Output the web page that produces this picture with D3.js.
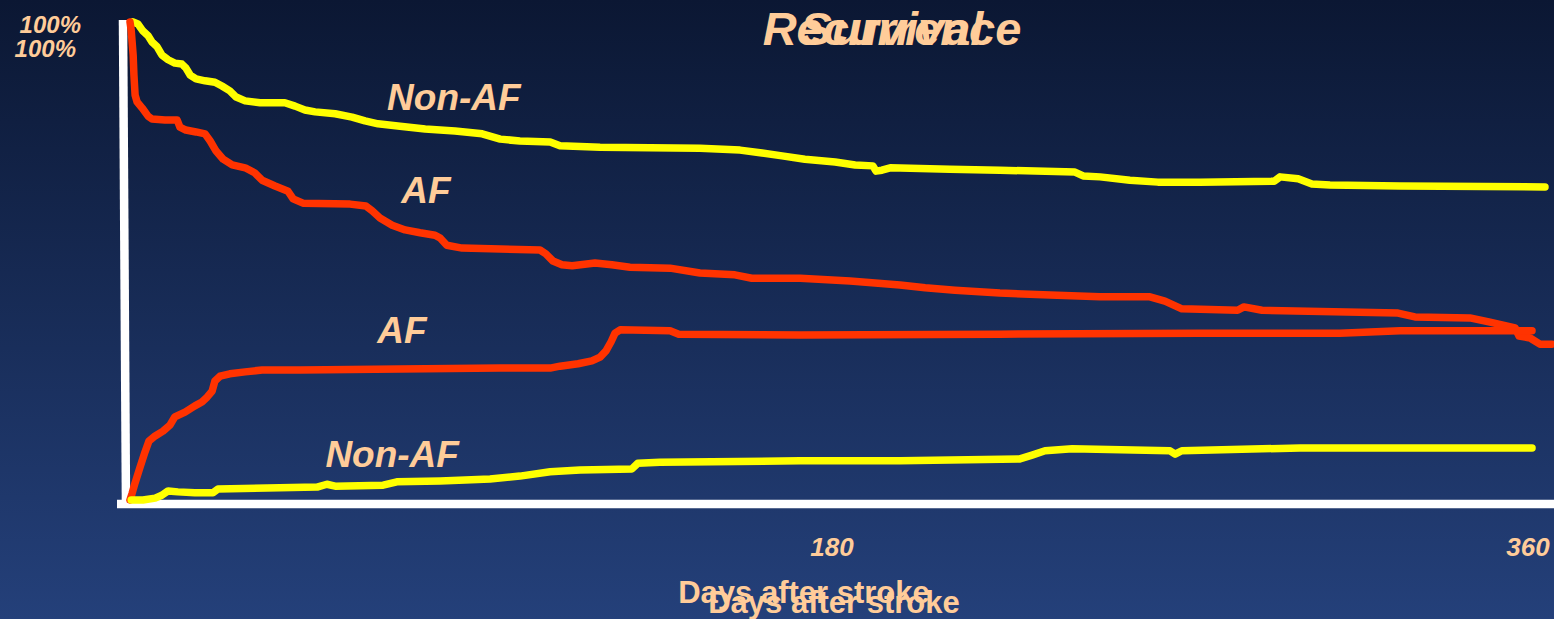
<!DOCTYPE html>
<html>
<head>
<meta charset="utf-8">
<script src="https://cdn.jsdelivr.net/npm/d3@7"></script>
<style>
  html, body { margin: 0; padding: 0; background: #0c1834; }
  svg { display: block; }
</style>
</head>
<body>
<svg id="chart" width="1554" height="619"></svg>
<script>
// Kaplan-Meier style curves after stroke: [day, percent]
const nonAfSurvival = [
  [0.8,100],[2.0,99.6],[3.3,98.1],[4.6,97.1],[5.6,95.8],[6.9,94.8],[8.1,93.1],[9.7,92.1],
  [11.4,91.4],[13.2,91.2],[14.2,90.4],[15.3,88.9],[16.8,88.1],[19.1,87.7],[21.6,87.4],
  [23.4,86.6],[25.4,85.6],[27.0,84.3],[29.3,83.5],[33.1,83.1],[39.4,83.1],[42.0,82.4],
  [44.5,81.6],[47.1,81.2],[52.2,80.8],[56.5,80.1],[59.8,79.3],[63.1,78.7],[68.7,78.2],
  [75.1,77.6],[82.7,77.2],[89.6,76.6],[94.2,75.5],[99.2,75.1],[106.9,74.9],[109.4,74.1],
  [119.6,73.8],[145.0,73.6],[155.2,73.2],[160.8,72.6],[165.9,72.0],[171.7,71.3],[179.4,70.7],
  [184.5,70.1],[189.0,69.9],[189.8,68.8],[191.3,69.0],[193.4,69.5],[208.6,69.2],[221.3,69.0],
  [240.4,68.6],[242.5,67.8],[246.8,67.6],[254.4,66.9],[261.5,66.5],[272.2,66.5],[291.1,66.7],
  [292.6,67.6],[297.2,67.2],[300.7,66.1],[305.3,65.9],[323.1,65.7],[360,65.5]
];

const afSurvival = [
  [0,100],[0.3,98.3],[0.8,93.1],[1.0,88.9],[1.3,84.7],[1.8,83.3],[3.1,82.0],[4.6,80.3],
  [5.6,79.7],[8.9,79.5],[12.0,79.5],[12.7,78.0],[14.2,77.4],[16.8,77.0],[19.1,76.6],
  [20.4,75.1],[21.9,73.0],[23.7,71.3],[26.0,70.1],[29.3,69.5],[31.8,68.4],[33.6,66.9],
  [36.9,65.7],[40.2,64.6],[41.5,63.0],[44.0,62.1],[56.0,61.9],[60.0,61.5],[61.6,60.5],
  [63.6,59.0],[66.7,57.5],[70.0,56.5],[73.8,55.9],[77.6,55.4],[78.9,54.8],[80.6,53.3],
  [84.5,52.7],[104.3,52.3],[105.8,51.5],[107.6,50.0],[109.9,49.2],[112.5,49.0],[118.3,49.6],
  [122.6,49.2],[127.2,48.7],[137.4,48.5],[145.0,47.5],[153.9,47.1],[158.2,46.4],[170.5,46.4],
  [183.2,45.8],[195.9,45.0],[202.3,44.4],[209.9,43.9],[221.3,43.3],[234.1,42.9],[246.8,42.5],
  [259.5,42.5],[263.3,41.6],[267.6,40.0],[281.8,39.7],[283.4,40.4],[288.0,39.7],[322.6,39.1],
  [326.9,38.3],[340.9,38.1],[346.0,37.2],[352.4,36.0],[353.4,34.3],[356.2,33.9],[358.7,32.6],
  [361.8,32.6]
];

const afRecurrence = [
  [0,0],[0.5,1.3],[1.3,3.6],[2.5,6.7],[3.8,10.0],[4.8,12.3],[6.4,13.4],[8.4,14.4],
  [10.2,15.7],[11.4,17.4],[14.0,18.4],[16.5,19.7],[18.3,20.5],[19.6,21.5],[20.9,22.8],
  [21.6,24.9],[22.9,25.9],[25.4,26.4],[29.3,26.8],[33.6,27.2],[43.3,27.2],[68.7,27.4],
  [94.2,27.6],[106.9,27.6],[109.4,28.0],[114.0,28.5],[117.5,29.1],[119.6,29.9],[121.1,31.2],
  [122.4,33.1],[123.4,34.9],[124.7,35.6],[137.4,35.4],[139.6,34.7],[170.5,34.5],[221.3,34.7],
  [272.2,34.9],[307.8,34.9],[323.1,35.4],[356.7,35.4]
];

const nonAfRecurrence = [
  [0.3,0],[3.3,0],[6.4,0.4],[8.1,1.0],[9.7,1.9],[12.2,1.7],[16.5,1.5],[21.1,1.5],[22.4,2.3],
  [34.9,2.5],[47.6,2.7],[50.1,3.3],[52.2,2.9],[64.4,3.1],[67.9,3.8],[78.9,4.0],[91.6,4.4],
  [99.2,5.0],[106.9,5.9],[114.5,6.3],[127.7,6.5],[129.2,7.7],[134.8,7.9],[170.5,8.2],
  [195.9,8.2],[226.4,8.6],[229.5,9.4],[232.8,10.3],[239.7,10.7],[264.6,10.3],[265.9,9.6],
  [267.6,10.3],[297.7,10.9],[356.7,10.9]
];

const xTicks = [180, 360];
const yTickLabels = ["100%", "100%"];
const titles = ["Recurrence", "Survival"];
const xTitles = ["Days after stroke", "Days after stroke"];

const series = [
  { name: "nonAfSurvival", data: nonAfSurvival, color: "#ffff00" },
  { name: "afSurvival", data: afSurvival, color: "#ff3300" },
  { name: "afRecurrence", data: afRecurrence, color: "#ff3300" },
  { name: "nonAfRecurrence", data: nonAfRecurrence, color: "#ffff00" }
];

const curveLabels = [
  { text: "Non-AF", day: 82.4, pct: 81.6 },
  { text: "AF", day: 75.3, pct: 62.1 },
  { text: "AF", day: 69.2, pct: 32.8 },
  { text: "Non-AF", day: 66.7, pct: 6.9 }
];

const W = 1554, H = 619;
const svg = d3.select("#chart");
const textColor = "#ffcc99";
const font = "Liberation Sans, Arial, sans-serif";

// background gradient
const defs = svg.append("defs");
const grad = defs.append("linearGradient")
  .attr("id", "bg").attr("x1", 0).attr("y1", 0).attr("x2", 0).attr("y2", 1);
grad.append("stop").attr("offset", "0%").attr("stop-color", "#0b1733");
grad.append("stop").attr("offset", "100%").attr("stop-color", "#24407a");
svg.append("rect").attr("width", W).attr("height", H).attr("fill", "url(#bg)");

const x = d3.scaleLinear().domain([0, 360]).range([130, 1545]);
const y = d3.scaleLinear().domain([0, 100]).range([500, 22]);
// lower panel scale used for the day labels
const xLabel = d3.scaleLinear().domain([0, 360]).range([136, 1528]);

// axes
svg.append("line")
  .attr("x1", 123).attr("y1", 20).attr("x2", 126).attr("y2", 508)
  .attr("stroke", "#ffffff").attr("stroke-width", 8.5);
svg.append("line")
  .attr("x1", 117).attr("y1", 504).attr("x2", 1554).attr("y2", 504)
  .attr("stroke", "#ffffff").attr("stroke-width", 8.5);

// curves
const line = d3.line().x(d => x(d[0])).y(d => y(d[1])).curve(d3.curveLinear);
svg.append("g").selectAll("path")
  .data(series)
  .join("path")
  .attr("d", d => line(d.data))
  .attr("fill", "none")
  .attr("stroke", d => d.color)
  .attr("stroke-width", 7.5)
  .attr("stroke-linejoin", "round")
  .attr("stroke-linecap", "round");

// curve labels
svg.append("g").selectAll("text")
  .data(curveLabels)
  .join("text")
  .attr("x", d => x(d.day))
  .attr("y", d => y(d.pct))
  .attr("text-anchor", "middle")
  .attr("font-family", font)
  .attr("font-weight", "bold")
  .attr("font-style", "italic")
  .attr("font-size", 37)
  .attr("fill", textColor)
  .text(d => d.text);

// titles (two overlaid slide titles)
svg.append("g").selectAll("text")
  .data(titles)
  .join("text")
  .attr("x", 892)
  .attr("y", 45)
  .attr("text-anchor", "middle")
  .attr("font-family", font)
  .attr("font-weight", "bold")
  .attr("font-style", "italic")
  .attr("font-size", 47)
  .attr("fill", textColor)
  .text(d => d);

// y tick labels
svg.append("g").selectAll("text")
  .data(yTickLabels)
  .join("text")
  .attr("x", (d, i) => i === 0 ? 81 : 76)
  .attr("y", (d, i) => y(100) + (i === 0 ? 11 : 35))
  .attr("text-anchor", "end")
  .attr("font-family", font)
  .attr("font-weight", "bold")
  .attr("font-style", "italic")
  .attr("font-size", 24)
  .attr("fill", textColor)
  .text(d => d);

// x tick labels
svg.append("g").selectAll("text")
  .data(xTicks)
  .join("text")
  .attr("x", d => xLabel(d))
  .attr("y", 556)
  .attr("text-anchor", "middle")
  .attr("font-family", font)
  .attr("font-weight", "bold")
  .attr("font-style", "italic")
  .attr("font-size", 26)
  .attr("fill", textColor)
  .text(d => d);

// x axis titles
svg.append("g").selectAll("text")
  .data(xTitles)
  .join("text")
  .attr("x", (d, i) => i === 0 ? 804 : 834)
  .attr("y", (d, i) => i === 0 ? 603 : 613)
  .attr("text-anchor", "middle")
  .attr("font-family", font)
  .attr("font-weight", "bold")
  .attr("font-size", 31)
  .attr("fill", textColor)
  .text(d => d);
</script>
</body>
</html>
